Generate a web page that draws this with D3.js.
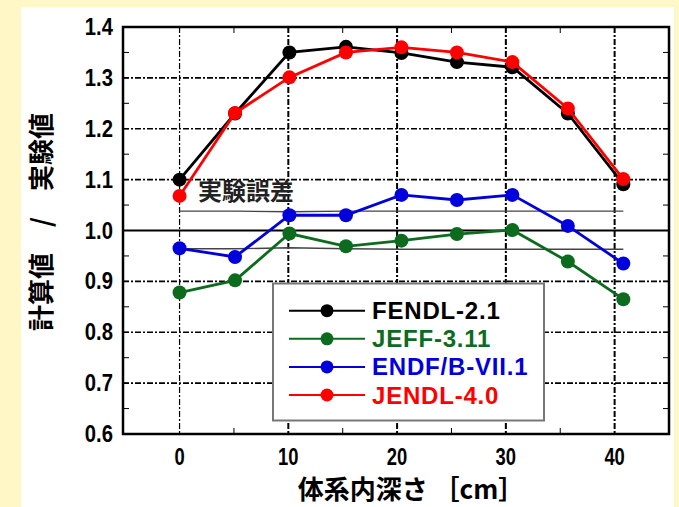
<!DOCTYPE html>
<html><head><meta charset="utf-8">
<script src="https://cdn.jsdelivr.net/npm/d3@7"></script>
<style>body{margin:0;background:#fff7c6;}svg{display:block;}</style>
</head><body>
<svg id="c" width="679" height="507"></svg>
<script>
const depth = [0, 5.1, 10.1, 15.3, 20.4, 25.5, 30.6, 35.7, 40.8];
const fendl = [1.100, 1.230, 1.350, 1.361, 1.349, 1.331, 1.321, 1.230, 1.091];
const jeff  = [0.878, 0.902, 0.994, 0.969, 0.980, 0.993, 1.001, 0.939, 0.865];
const endf  = [0.965, 0.948, 1.030, 1.030, 1.070, 1.060, 1.070, 1.009, 0.935];
const jendl = [1.068, 1.231, 1.301, 1.350, 1.360, 1.350, 1.331, 1.240, 1.101];
const errUpper = [1.038, 1.038, 1.037, 1.038, 1.038, 1.038, 1.038, 1.038, 1.038];
const errLower = [0.964, 0.964, 0.966, 0.964, 0.963, 0.963, 0.963, 0.963, 0.963];
const seriesNames = ["FENDL-2.1", "JEFF-3.11", "ENDF/B-VII.1", "JENDL-4.0"];
const seriesColors = ["#000000", "#0d6b1e", "#0000dd", "#ff0000"];
const xTicks = [0, 10, 20, 30, 40];
const xMinor = [5, 15, 25, 35];
const yTicks = [0.6, 0.7, 0.8, 0.9, 1.0, 1.1, 1.2, 1.3, 1.4];
const yMinor = [0.65, 0.75, 0.85, 0.95, 1.05, 1.15, 1.25, 1.35];

const svg = d3.select("#c");
svg.append("rect").attr("x", 21).attr("y", 7).attr("width", 653).attr("height", 500).attr("fill", "#fff");

const L = 123, R = 669, T = 27, B = 434;
const x = d3.scaleLinear().domain([-5.2, 45]).range([L, R]);
const y = d3.scaleLinear().domain([0.6, 1.4]).range([B, T]);

// grid
const g = svg.append("g");
g.selectAll("line.vg").data(xTicks).join("line")
  .attr("x1", d => x(d)).attr("x2", d => x(d)).attr("y1", T).attr("y2", B)
  .attr("stroke", "#000").attr("stroke-width", d => d === 0 ? 1.2 : 2)
  .attr("stroke-dasharray", "6,2,2,2");
g.selectAll("line.hg").data(yTicks.filter(d => d > 0.6 && d < 1.4 && d !== 1.0)).join("line")
  .attr("x1", L).attr("x2", R).attr("y1", d => y(d)).attr("y2", d => y(d))
  .attr("stroke", "#000").attr("stroke-width", 1.6)
  .attr("stroke-dasharray", "6,2,2,2");
g.append("line").attr("x1", L).attr("x2", R).attr("y1", y(1.0)).attr("y2", y(1.0))
  .attr("stroke", "#000").attr("stroke-width", 2);

// minor ticks
const tk = svg.append("g").attr("stroke", "#000").attr("stroke-width", 1);
yMinor.concat(yTicks).forEach(v => {
  tk.append("line").attr("x1", L).attr("x2", L + 6).attr("y1", y(v)).attr("y2", y(v));
  tk.append("line").attr("x1", R - 6).attr("x2", R).attr("y1", y(v)).attr("y2", y(v));
});
xMinor.forEach(v => {
  tk.append("line").attr("x1", x(v)).attr("x2", x(v)).attr("y1", B).attr("y2", B - 6);
  tk.append("line").attr("x1", x(v)).attr("x2", x(v)).attr("y1", T).attr("y2", T + 6);
});

// experimental error band lines
const line = d3.line().x((d, i) => x(depth[i])).y(d => y(d));
[errUpper, errLower].forEach(arr => {
  svg.append("path").attr("d", line(arr)).attr("fill", "none")
    .attr("stroke", "#444").attr("stroke-width", 1.4);
});
svg.append("text").attr("x", 198).attr("y", 200).text("実験誤差")
  .attr("font-family", "Noto Sans CJK JP").attr("font-weight", "bold")
  .attr("font-size", 24).attr("fill", "#222");

// series
const data = [fendl, jeff, endf, jendl];
const order = [1, 2, 0, 3];
order.forEach(k => {
  const s = data[k];
  svg.append("path").attr("d", line(s)).attr("fill", "none")
    .attr("stroke", seriesColors[k]).attr("stroke-width", 2.8);
  svg.selectAll(null).data(s).join("circle")
    .attr("cx", (d, i) => x(depth[i])).attr("cy", d => y(d)).attr("r", 7)
    .attr("fill", seriesColors[k]);
});

// frame
svg.append("rect").attr("x", L).attr("y", T).attr("width", R - L).attr("height", B - T)
  .attr("fill", "none").attr("stroke", "#000").attr("stroke-width", 2.5);

// tick labels
const fnt = "'Liberation Sans', Arial, sans-serif";
svg.selectAll("text.yl").data(yTicks).join("text")
  .attr("transform", d => `translate(113,${y(d) + 8}) scale(0.88,1)`).attr("text-anchor", "end")
  .attr("font-family", fnt).attr("font-weight", "bold").attr("font-size", 23)
  .text(d => d3.format(".1f")(d));
svg.selectAll("text.xl").data(xTicks).join("text")
  .attr("transform", d => `translate(${x(d)},465) scale(0.8,1)`).attr("text-anchor", "middle")
  .attr("font-family", fnt).attr("font-weight", "bold").attr("font-size", 23)
  .text(d => d);

// axis titles
svg.append("text").attr("transform", "translate(51,222) rotate(-90)")
  .attr("text-anchor", "middle").attr("font-family", "Noto Sans CJK JP")
  .attr("font-weight", "bold").attr("font-size", 26).text("計算値　/　実験値");
svg.append("text").attr("x", 411).attr("y", 499).attr("text-anchor", "middle")
  .attr("font-family", "Noto Sans CJK JP").attr("font-weight", "bold")
  .attr("font-size", 26).text("体系内深さ ［cm］");

// legend
const lg = svg.append("g");
lg.append("rect").attr("x", 273).attr("y", 283.5).attr("width", 271).attr("height", 137)
  .attr("fill", "#fff").attr("stroke", "#777").attr("stroke-width", 2);
seriesNames.forEach((n, i) => {
  const yy = 310.7 + i * 28.1;
  lg.append("line").attr("x1", 289).attr("x2", 365).attr("y1", yy).attr("y2", yy)
    .attr("stroke", seriesColors[i]).attr("stroke-width", 2);
  lg.append("circle").attr("cx", 327).attr("cy", yy).attr("r", 6.5).attr("fill", seriesColors[i]);
  lg.append("text").attr("x", 372).attr("y", yy + 8.5).text(n)
    .attr("font-family", fnt).attr("font-weight", "bold").attr("font-size", 24)
    .attr("letter-spacing", 0.8)
    .attr("fill", seriesColors[i]);
});
</script>
</body></html>
